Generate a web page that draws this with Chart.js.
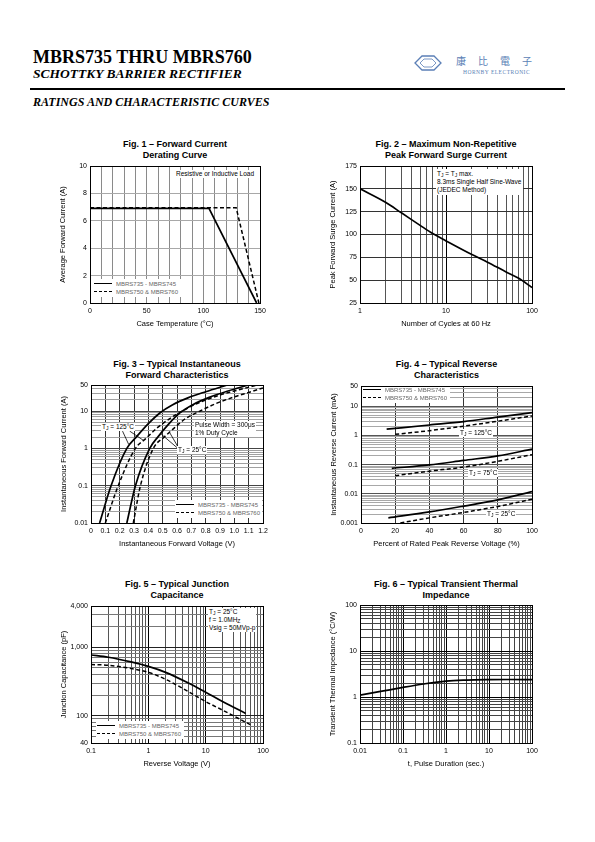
<!DOCTYPE html>
<html><head><meta charset="utf-8">
<script src="https://cdn.jsdelivr.net/npm/chart.js@4.4.1/dist/chart.umd.min.js"></script>
<style>
html,body{margin:0;padding:0;background:#fff;}
body{width:595px;height:842px;position:relative;overflow:hidden;font-family:'Liberation Sans',Arial,Helvetica,sans-serif;color:#000;}
.abs{position:absolute;white-space:nowrap;}
canvas{position:absolute;}
.serif{font-family:'Liberation Serif','Times New Roman',Times,serif;}
.ftitle{position:absolute;text-align:center;font-weight:bold;font-size:9px;line-height:10.5px;white-space:nowrap;}
.note{position:absolute;background:#fff;font-size:6.5px;line-height:8px;white-space:nowrap;padding:0 1px;}
.leg{position:absolute;background:#fff;}
.legrow{position:absolute;left:0;height:8px;font-size:6px;line-height:8px;color:#666;white-space:nowrap;}
.legline{position:absolute;left:1px;top:3px;width:18px;height:0;border-top:1.6px solid #000;}
.legline.dash{border-top:1.5px dashed #000;}
.legtxt{position:absolute;left:23px;top:0;}
sub{font-size:5px;vertical-align:-1px;line-height:0;}
</style>
</head><body>

<!-- Header -->
<div class="abs serif" style="left:33px;top:48px;font-size:18px;line-height:18px;font-weight:bold;">MBRS735 THRU MBRS760</div>
<div class="abs serif" style="left:33px;top:67px;font-size:13.5px;line-height:14px;font-weight:bold;font-style:italic;">SCHOTTKY BARRIER RECTIFIER</div>
<div class="abs" style="left:30px;top:88px;width:535px;height:2px;background:#000;"></div>
<div class="abs serif" style="left:33px;top:96px;font-size:12px;line-height:12px;font-weight:bold;font-style:italic;">RATINGS AND CHARACTERISTIC CURVES</div>
<svg class="abs" style="left:413px;top:54px;" width="30" height="18" viewBox="0 0 30 18">
  <polygon points="2,9 9,2 21,2 28,9 21,16 9,16" fill="none" stroke="#5b7fb6" stroke-width="1.3"/>
  <polygon points="7,9 11,5 19,5 23,9 19,13 11,13" fill="none" stroke="#5b7fb6" stroke-width="0.8"/>
</svg>
<div class="abs" style="left:456px;top:55px;font-family:'Noto Sans CJK TC','Noto Sans CJK SC',sans-serif;font-size:10px;line-height:12px;letter-spacing:12px;color:#5b7fb6;">康比電子</div>
<div class="abs serif" style="left:463px;top:69px;font-size:5.5px;line-height:6px;color:#5b7fb6;letter-spacing:0.5px;">HORNBY ELECTRONIC</div>

<!-- Figure titles -->
<div class="ftitle" style="left:90px;width:170px;top:139px;">Fig. 1 – Forward Current<br>Derating Curve</div>
<div class="ftitle" style="left:360px;width:172px;top:139px;">Fig. 2 – Maximum Non-Repetitive<br>Peak Forward Surge Current</div>
<div class="ftitle" style="left:91px;width:172px;top:359px;">Fig. 3 – Typical Instantaneous<br>Forward Characteristics</div>
<div class="ftitle" style="left:361px;width:171px;top:359px;">Fig. 4 – Typical Reverse<br>Characteristics</div>
<div class="ftitle" style="left:91px;width:172px;top:579px;">Fig. 5 – Typical Junction<br>Capacitance</div>
<div class="ftitle" style="left:360px;width:172px;top:579px;">Fig. 6 – Typical Transient Thermal<br>Impedance</div>

<canvas id="c1"></canvas>
<canvas id="c2"></canvas>
<canvas id="c3"></canvas>
<canvas id="c4"></canvas>
<canvas id="c5"></canvas>
<canvas id="c6"></canvas>

<!-- In-plot notes -->
<div class="note" style="left:175px;top:170px;">Resistive or Inductive Load</div>
<div class="note" style="left:436px;top:169px;padding:1px 2px 1px 1px;">T<sub>J</sub> = T<sub>J</sub> max.<br>8.3ms Single Half Sine-Wave<br>(JEDEC Method)</div>

<div class="note" style="left:101px;top:423px;">T<sub>J</sub> = 125°C</div>
<div class="note" style="left:177px;top:446px;">T<sub>J</sub> = 25°C</div>
<div class="note" style="left:194px;top:421px;">Pulse Width = 300μs<br>1% Duty Cycle</div>

<div class="note" style="left:459px;top:429px;">T<sub>J</sub> = 125°C</div>
<div class="note" style="left:468px;top:469px;">T<sub>J</sub> = 75°C</div>
<div class="note" style="left:486px;top:510px;">T<sub>J</sub> = 25°C</div>

<div class="note" style="left:208px;top:608px;">T<sub>J</sub> = 25°C<br>f = 1.0MH<sub>Z</sub><br>Vsig = 50MVp-p</div>

<!-- Legends -->
<div class="leg" style="left:93px;top:279px;width:88px;height:18px;">
  <div class="legrow" style="top:1px;"><div class="legline"></div><span class="legtxt">MBRS735 - MBRS745</span></div>
  <div class="legrow" style="top:9px;"><div class="legline dash"></div><span class="legtxt">MBRS750 &amp; MBRS760</span></div>
</div>
<div class="leg" style="left:175px;top:500px;width:87px;height:18px;">
  <div class="legrow" style="top:1px;"><div class="legline"></div><span class="legtxt">MBRS735 - MBRS745</span></div>
  <div class="legrow" style="top:9px;"><div class="legline dash"></div><span class="legtxt">MBRS750 &amp; MBRS760</span></div>
</div>
<div class="leg" style="left:362px;top:387px;width:88px;height:16px;">
  <div class="legrow" style="top:-1px;"><div class="legline"></div><span class="legtxt">MBRS735 - MBRS745</span></div>
  <div class="legrow" style="top:7px;"><div class="legline dash"></div><span class="legtxt">MBRS750 &amp; MBRS760</span></div>
</div>
<div class="leg" style="left:96px;top:721px;width:88px;height:18px;">
  <div class="legrow" style="top:1px;"><div class="legline"></div><span class="legtxt">MBRS735 - MBRS745</span></div>
  <div class="legrow" style="top:9px;"><div class="legline dash"></div><span class="legtxt">MBRS750 &amp; MBRS760</span></div>
</div>

<script>
// ================= DATA =================
// Fig. 1 – Forward Current Derating Curve
const fig1SolidTemp    = [0, 105, 147];
const fig1SolidCurrent = [6.9, 6.9, 0];
const fig1DashTemp     = [0, 129, 149];
const fig1DashCurrent  = [6.95, 6.95, 0];
const fig1XTickValues = [0, 50, 100, 150];
const fig1XTickLabels = ['0', '50', '100', '150'];
const fig1YTickValues = [0, 2, 4, 6, 8, 10];
const fig1YTickLabels = ['0', '2', '4', '6', '8', '10'];

// Fig. 2 – Maximum Non-Repetitive Peak Forward Surge Current
const fig2Cycles = [1, 2, 3, 5, 7, 10, 20, 30, 50, 70, 100];
const fig2Surge  = [150, 135, 124, 110, 101, 93, 78, 70, 59, 52, 42];
const fig2XTickValues = [1, 10, 100];
const fig2XTickLabels = ['1', '10', '100'];
const fig2YTickValues = [25, 50, 75, 100, 125, 150, 175];
const fig2YTickLabels = ['25', '50', '75', '100', '125', '150', '175'];

// Fig. 3 – Typical Instantaneous Forward Characteristics
const fig3Solid125V = [0.06, 0.14, 0.25, 0.32, 0.40, 0.48, 0.57, 0.68, 0.80, 0.95];
const fig3Solid125I = [0.01, 0.1, 1, 2.1, 4.6, 8.9, 14.8, 22.9, 33, 50];
const fig3Dash125V  = [0.10, 0.19, 0.31, 0.38, 0.46, 0.55, 0.65, 0.77, 0.90, 1.03, 1.15];
const fig3Dash125I  = [0.01, 0.1, 1, 1.8, 3.5, 6.3, 10.7, 17.8, 27, 37, 49];
const fig3Solid25V  = [0.25, 0.31, 0.41, 0.47, 0.54, 0.62, 0.71, 0.82, 0.95, 1.10];
const fig3Solid25I  = [0.01, 0.1, 1, 2.1, 4.4, 8.9, 14.8, 22.9, 34, 50];
const fig3Dash25V   = [0.295, 0.345, 0.435, 0.51, 0.58, 0.66, 0.76, 0.87, 1.0, 1.1, 1.2];
const fig3Dash25I   = [0.01, 0.1, 1, 2.0, 3.5, 6.3, 10, 15.8, 24, 31.6, 41.7];
const fig3XTickValues = [0, 0.1, 0.2, 0.3, 0.4, 0.5, 0.6, 0.7, 0.8, 0.9, 1.0, 1.1, 1.2];
const fig3XTickLabels = ['0', '0.1', '0.2', '0.3', '0.4', '0.5', '0.6', '0.7', '0.8', '0.9', '1.0', '1.1', '1.2'];
const fig3YTickValues = [0.01, 0.1, 1, 10, 50];
const fig3YTickLabels = ['0.01', '0.1', '1', '10', '50'];

// Fig. 4 – Typical Reverse Characteristics
const fig4Solid125Pct = [15, 40, 60, 80, 100];
const fig4Solid125I   = [1.65, 2.3, 3.0, 4.3, 6.1];
const fig4Dash125Pct  = [20, 40, 60, 80, 100];
const fig4Dash125I    = [1.1, 1.47, 2.1, 3.1, 4.7];
const fig4Solid75Pct  = [18, 40, 60, 80, 100];
const fig4Solid75I    = [0.075, 0.098, 0.14, 0.2, 0.34];
const fig4Dash75Pct   = [20, 40, 60, 80, 100];
const fig4Dash75I     = [0.042, 0.06, 0.083, 0.13, 0.22];
const fig4Solid25Pct  = [16, 40, 60, 80, 100];
const fig4Solid25I    = [0.0015, 0.0024, 0.0038, 0.0062, 0.012];
const fig4Dash25Pct   = [23, 40, 60, 80, 100];
const fig4Dash25I     = [0.001, 0.0015, 0.0023, 0.0037, 0.0065];
const fig4XTickValues = [0, 20, 40, 60, 80, 100];
const fig4XTickLabels = ['0', '20', '40', '60', '80', '100'];
const fig4YTickValues = [0.001, 0.01, 0.1, 1, 10, 50];
const fig4YTickLabels = ['0.001', '0.01', '0.1', '1', '10', '50'];

// Fig. 5 – Typical Junction Capacitance
const fig5SolidV = [0.1, 0.2, 0.5, 1, 2, 5, 10, 20, 50];
const fig5SolidC = [770, 715, 610, 525, 430, 300, 220, 160, 108];
const fig5DashV  = [0.1, 0.2, 0.5, 1, 2, 5, 10, 20, 60];
const fig5DashC  = [560, 545, 490, 430, 340, 225, 161, 120, 74];
const fig5XTickValues = [0.1, 1, 10, 100];
const fig5XTickLabels = ['0.1', '1', '10', '100'];
const fig5YTickValues = [40, 100, 1000, 4000];
const fig5YTickLabels = ['40', '100', '1,000', '4,000'];

// Fig. 6 – Typical Transient Thermal Impedance
const fig6Time = [0.01, 0.03, 0.1, 0.3, 1, 3, 10, 30, 100];
const fig6Z    = [1.1, 1.32, 1.62, 1.92, 2.22, 2.33, 2.38, 2.4, 2.38];
const fig6XTickValues = [0.01, 0.1, 1, 10, 100];
const fig6XTickLabels = ['0.01', '0.1', '1', '10', '100'];
const fig6YTickValues = [0.1, 1, 10, 100];
const fig6YTickLabels = ['0.1', '1', '10', '100'];

// ================= HELPERS =================
const FONT = "'Liberation Sans', Arial, Helvetica, sans-serif";
const YW = 32, XH = 25, PT = 8, PR = 12;

function pts(xs, ys) { return xs.map((x, i) => ({ x: x, y: ys[i] })); }
function linGrid(min, max, step) { const a = []; for (let v = min; v <= max + 1e-9; v += step) a.push(+v.toFixed(6)); return a; }
function logGrid(min, max) {
  const a = [];
  let e = Math.floor(Math.log10(min));
  while (true) {
    const base = Math.pow(10, e);
    for (let d = 1; d <= 9; d++) {
      const v = +(d * base).toPrecision(6);
      if (v > max * (1 + 1e-9)) return a;
      if (v >= min * (1 - 1e-9)) a.push(v);
    }
    e++;
  }
}
function near(a, b) { return Math.abs(a - b) <= Math.abs(b) * 1e-6 + 1e-12; }

function makeAxis(o) {
  return {
    type: o.type, min: o.min, max: o.max, position: o.isX ? 'bottom' : 'left',
    afterBuildTicks: s => { s.ticks = o.grid.map(v => ({ value: v })); },
    afterFit: s => { if (o.isX) s.height = XH; else s.width = YW; },
    ticks: {
      autoSkip: false, maxRotation: 0, minRotation: 0, padding: o.isX ? 4 : 3, color: '#000',
      font: { family: FONT, size: 7 },
      callback: v => { const i = o.tickValues.findIndex(t => near(v, t)); return i >= 0 ? o.tickLabels[i] : ''; }
    },
    grid: {
      drawTicks: false, lineWidth: 1,
      color: c => {
        const v = c.tick ? c.tick.value : null;
        if (v !== null && o.majors && o.majors.some(m => near(v, m))) return o.majorColor;
        return o.minorColor;
      }
    },
    border: { display: true, color: '#000', width: 1 },
    title: { display: true, text: o.title, padding: 0, color: '#000', font: { family: FONT, size: 7.5 } }
  };
}

const framePlugin = {
  id: 'frame',
  afterDraw(chart) {
    const a = chart.chartArea, ctx = chart.ctx;
    ctx.save();
    ctx.strokeStyle = '#000'; ctx.lineWidth = 1;
    ctx.strokeRect(Math.round(a.left) + 0.5, Math.round(a.top) + 0.5, Math.round(a.right - a.left), Math.round(a.bottom - a.top));
    ctx.restore();
  }
};

function solid(data, smooth) {
  return { data: data, borderColor: '#000', borderWidth: 1.7, fill: false, pointRadius: 0,
    tension: 0, cubicInterpolationMode: smooth ? 'monotone' : 'default' };
}
function dashed(data, smooth) {
  return { data: data, borderColor: '#000', borderWidth: 1.5, borderDash: [4, 2.5], fill: false, pointRadius: 0,
    tension: 0, cubicInterpolationMode: smooth ? 'monotone' : 'default' };
}

function makeChart(id, plot, xAxis, yAxis, datasets, extra) {
  const cv = document.getElementById(id);
  const [l, t, r, b] = plot;
  cv.width = (r - l) + YW + PR; cv.height = (b - t) + PT + XH;
  cv.style.left = (l - YW) + 'px'; cv.style.top = (t - PT) + 'px';
  cv.style.width = cv.width + 'px'; cv.style.height = cv.height + 'px';
  return new Chart(cv, {
    type: 'line',
    data: { datasets: datasets },
    options: {
      responsive: false, animation: false, devicePixelRatio: 1,
      layout: { padding: { left: 0, top: PT, right: PR, bottom: 0 } },
      plugins: { legend: { display: false }, tooltip: { enabled: false } },
      scales: { x: makeAxis(Object.assign({ isX: true }, xAxis)), y: makeAxis(yAxis) }
    },
    plugins: [framePlugin].concat(extra || [])
  });
}

// ================= CHARTS =================
// Fig 1
makeChart('c1', [90, 166, 260, 303],
  { type: 'linear', min: 0, max: 150, grid: linGrid(0, 150, 10), tickValues: fig1XTickValues, tickLabels: fig1XTickLabels,
    minorColor: '#8a8a8a', majorColor: '#8a8a8a', title: 'Case Temperature (°C)' },
  { type: 'linear', min: 0, max: 10, grid: linGrid(0, 10, 2), tickValues: fig1YTickValues, tickLabels: fig1YTickLabels,
    minorColor: '#a8a8a8', majorColor: '#a8a8a8', title: 'Average Forward Current (A)' },
  [dashed(pts(fig1DashTemp, fig1DashCurrent), false), solid(pts(fig1SolidTemp, fig1SolidCurrent), false)]);

// Fig 2
makeChart('c2', [360, 166, 532, 303],
  { type: 'logarithmic', min: 1, max: 100, grid: logGrid(1, 100), tickValues: fig2XTickValues, tickLabels: fig2XTickLabels,
    minorColor: '#555', majorColor: '#000', majors: [1, 10, 100], title: 'Number of Cycles at 60 Hz' },
  { type: 'linear', min: 25, max: 175, grid: linGrid(25, 175, 25), tickValues: fig2YTickValues, tickLabels: fig2YTickLabels,
    minorColor: '#333', majorColor: '#333', title: 'Peak Forward Surge Current (A)' },
  [solid(pts(fig2Cycles, fig2Surge), true)]);

// Fig 3 leader lines (label pointers) in data coordinates
const fig3Leaders = [[0.22, 2.9, 0.262, 1.3], [0.27, 2.9, 0.37, 1.6], [0.6, 1.05, 0.49, 2.4], [0.61, 1.05, 0.55, 2.6]];
const leaderPlugin = {
  id: 'leaders',
  afterDatasetsDraw(chart) {
    const ctx = chart.ctx, xs = chart.scales.x, ys = chart.scales.y;
    ctx.save(); ctx.strokeStyle = '#000'; ctx.lineWidth = 0.8;
    fig3Leaders.forEach(s => {
      ctx.beginPath();
      ctx.moveTo(xs.getPixelForValue(s[0]), ys.getPixelForValue(s[1]));
      ctx.lineTo(xs.getPixelForValue(s[2]), ys.getPixelForValue(s[3]));
      ctx.stroke();
    });
    ctx.restore();
  }
};
makeChart('c3', [91, 385, 263, 523],
  { type: 'linear', min: 0, max: 1.2, grid: linGrid(0, 1.2, 0.1), tickValues: fig3XTickValues, tickLabels: fig3XTickLabels,
    minorColor: '#333', majorColor: '#333', title: 'Instantaneous Forward Voltage (V)' },
  { type: 'logarithmic', min: 0.01, max: 50, grid: logGrid(0.01, 50), tickValues: fig3YTickValues, tickLabels: fig3YTickLabels,
    minorColor: '#a0a0a0', majorColor: '#444', majors: [0.01, 0.1, 1, 10], title: 'Instantaneous Forward Current (A)' },
  [dashed(pts(fig3Dash125V, fig3Dash125I), true), dashed(pts(fig3Dash25V, fig3Dash25I), true),
   solid(pts(fig3Solid125V, fig3Solid125I), true), solid(pts(fig3Solid25V, fig3Solid25I), true)],
  [leaderPlugin]);

// Fig 4
makeChart('c4', [361, 386, 532, 523],
  { type: 'linear', min: 0, max: 100, grid: linGrid(0, 100, 20), tickValues: fig4XTickValues, tickLabels: fig4XTickLabels,
    minorColor: '#333', majorColor: '#333', title: 'Percent of Rated Peak Reverse Voltage (%)' },
  { type: 'logarithmic', min: 0.001, max: 50, grid: logGrid(0.001, 50), tickValues: fig4YTickValues, tickLabels: fig4YTickLabels,
    minorColor: '#a8a8a8', majorColor: '#555', majors: [0.001, 0.01, 0.1, 1, 10], title: 'Instantaneous Reverse Current (mA)' },
  [dashed(pts(fig4Dash125Pct, fig4Dash125I), true), dashed(pts(fig4Dash75Pct, fig4Dash75I), true), dashed(pts(fig4Dash25Pct, fig4Dash25I), true),
   solid(pts(fig4Solid125Pct, fig4Solid125I), true), solid(pts(fig4Solid75Pct, fig4Solid75I), true), solid(pts(fig4Solid25Pct, fig4Solid25I), true)]);

// Fig 5
makeChart('c5', [91, 606, 263, 743],
  { type: 'logarithmic', min: 0.1, max: 100, grid: logGrid(0.1, 100), tickValues: fig5XTickValues, tickLabels: fig5XTickLabels,
    minorColor: '#555', majorColor: '#000', majors: [0.1, 1, 10, 100], title: 'Reverse Voltage (V)' },
  { type: 'logarithmic', min: 40, max: 4000, grid: logGrid(40, 4000), tickValues: fig5YTickValues, tickLabels: fig5YTickLabels,
    minorColor: '#777', majorColor: '#222', majors: [100, 1000], title: 'Junction Capacitance (pF)' },
  [dashed(pts(fig5DashV, fig5DashC), true), solid(pts(fig5SolidV, fig5SolidC), true)]);

// Fig 6
makeChart('c6', [360, 605, 532, 743],
  { type: 'logarithmic', min: 0.01, max: 100, grid: logGrid(0.01, 100), tickValues: fig6XTickValues, tickLabels: fig6XTickLabels,
    minorColor: '#444', majorColor: '#000', majors: [0.01, 0.1, 1, 10, 100], title: 't, Pulse Duration (sec.)' },
  { type: 'logarithmic', min: 0.1, max: 100, grid: logGrid(0.1, 100), tickValues: fig6YTickValues, tickLabels: fig6YTickLabels,
    minorColor: '#444', majorColor: '#000', majors: [0.1, 1, 10, 100], title: 'Transient Thermal Impedance (°C/W)' },
  [solid(pts(fig6Time, fig6Z), true)]);
</script>
</body></html>
